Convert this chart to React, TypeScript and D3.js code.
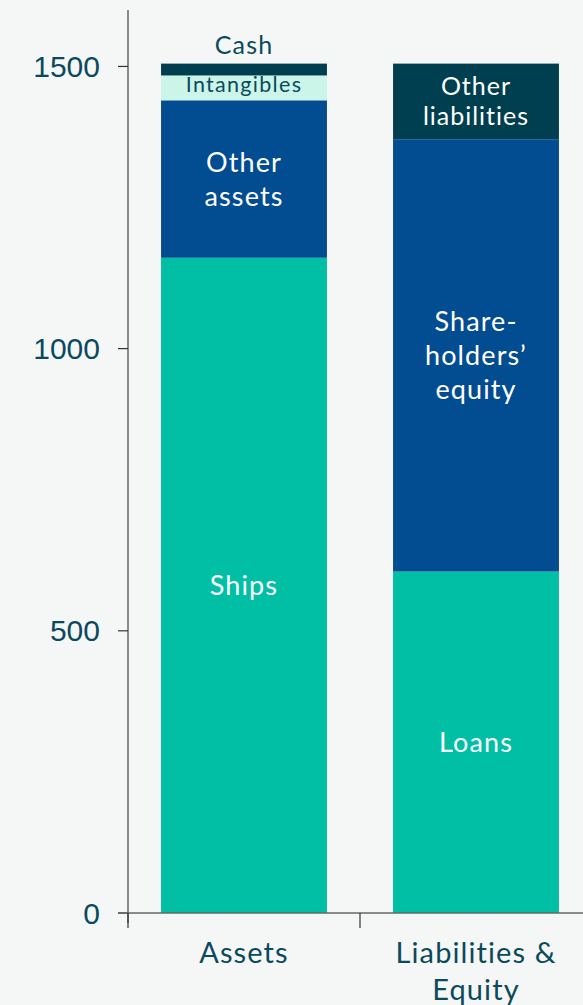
import React from "react";
import * as d3 from "d3";

const categories = ["Assets", "Liabilities & Equity"];
const categoryLabelLines = [["Assets"], ["Liabilities &", "Equity"]];

const assetSegments = ["Ships", "Other assets", "Intangibles", "Cash"];
const assetValues = [1161, 279, 44, 21];
const assetLabelLines = [["Ships"], ["Other", "assets"], ["Intangibles"], ["Cash"]];

const liabSegments = ["Loans", "Shareholders' equity", "Other liabilities"];
const liabValues = [605, 766, 134];
const liabLabelLines = [["Loans"], ["Share-", "holders’", "equity"], ["Other", "liabilities"]];

const yTicks = [0, 500, 1000, 1500];

const W = 583;
const H = 1005;
const margin = { left: 128, right: -9, top: 10, bottom: 92 };

const COLORS: Record<string, string> = {
  Ships: "#00BFA5",
  Loans: "#00BFA5",
  "Other assets": "#024C91",
  "Shareholders' equity": "#024C91",
  Intangibles: "#CCF5EA",
  Cash: "#003F4F",
  "Other liabilities": "#003F4F",
};
const TEXT_DARK = "#0B4A5A";
const FONT = "Lato, 'Open Sans', sans-serif";

export default function App() {
  const x = d3
    .scaleBand<string>()
    .domain(categories)
    .range([margin.left, W - margin.right])
    .paddingInner(0.285)
    .paddingOuter(0.1425);
  const y = d3.scaleLinear().domain([0, 1600]).range([H - margin.bottom, margin.top]);

  const stacks = [
    { cat: categories[0], names: assetSegments, values: assetValues, labels: assetLabelLines },
    { cat: categories[1], names: liabSegments, values: liabValues, labels: liabLabelLines },
  ];

  const step = x.step();
  const boundaries = [margin.left, margin.left + step];

  return (
    <svg
      width={W}
      height={H}
      style={{ position: "absolute", left: 0, top: 0, display: "block", background: "#F5F7F7", fontVariantLigatures: "none" }}
    >
      <rect x={0} y={0} width={W} height={H} fill="#F5F7F7" />
      {stacks.map((s) => {
        let acc = 0;
        const bx = x(s.cat)!;
        const bw = x.bandwidth();
        return (
          <g key={s.cat}>
            {s.values.map((v, i) => {
              const y0 = y(acc);
              const y1 = y(acc + v);
              acc += v;
              const name = s.names[i];
              const lines = s.labels[i];
              const cx = bx + bw / 2;
              let fontSize = 27;
              let lh = 34;
              let ls = 1.1;
              let cy = (y0 + y1) / 2 - 1;
              let fill = "#FFFFFF";
              if (name === "Intangibles") {
                fontSize = 21.5;
                ls = 1.3;
                fill = TEXT_DARK;
                cy = (y0 + y1) / 2 - 4;
              } else if (name === "Cash") {
                fontSize = 25;
                ls = 1.2;
                fill = TEXT_DARK;
                cy = y1 - 20;
              } else if (name === "Other liabilities") {
                fontSize = 25;
                lh = 30;
                ls = 1.0;
              }
              const startY = cy - ((lines.length - 1) * lh) / 2;
              return (
                <g key={name}>
                  <rect x={bx} y={y1} width={bw} height={y0 - y1} fill={COLORS[name]} />
                  <text
                    x={cx}
                    textAnchor="middle"
                    fontFamily={FONT}
                    fontSize={fontSize}
                    letterSpacing={ls}
                    fill={fill}
                    dominantBaseline="central"
                  >
                    {lines.map((ln, k) => (
                      <tspan key={k} x={cx} y={startY + k * lh}>
                        {ln}
                      </tspan>
                    ))}
                  </text>
                </g>
              );
            })}
          </g>
        );
      })}
      {/* Y axis */}
      <line x1={margin.left} x2={margin.left} y1={margin.top} y2={y(0) + 10} stroke="#666" strokeWidth={1.5} />
      {yTicks.map((t) => (
        <g key={t}>
          <line x1={margin.left - 10} x2={margin.left} y1={y(t)} y2={y(t)} stroke="#333" strokeWidth={1.2} />
          <text
            x={margin.left - 28}
            y={y(t)}
            textAnchor="end"
            dominantBaseline="central"
            fontFamily="'Liberation Sans', Arial, sans-serif"
            fontSize={30}
            fill="#0B4A5E"
          >
            {t}
          </text>
        </g>
      ))}
      {/* X axis */}
      <line x1={margin.left - 10} x2={W} y1={y(0)} y2={y(0)} stroke="#666" strokeWidth={1.5} />
      {boundaries.map((b, i) => (
        <line key={i} x1={b} x2={b} y1={y(0)} y2={y(0) + 15} stroke="#333" strokeWidth={1.2} />
      ))}
      {categories.map((c, i) => {
        const cx = x(c)! + x.bandwidth() / 2;
        return (
          <text
            key={c}
            textAnchor="middle"
            fontFamily={FONT}
            fontSize={29}
            letterSpacing={1.1}
            fill={TEXT_DARK}
            dominantBaseline="central"
          >
            {categoryLabelLines[i].map((ln, k) => (
              <tspan key={k} x={cx} y={951 + k * 37}>
                {ln}
              </tspan>
            ))}
          </text>
        );
      })}
    </svg>
  );
}
